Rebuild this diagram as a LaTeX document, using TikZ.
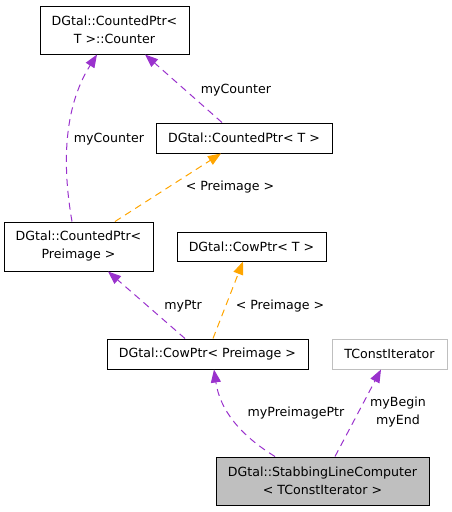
\documentclass[tikz,border=0pt]{standalone}
\usepackage{fontspec}
\setmainfont{DejaVu Sans}
\usetikzlibrary{arrows.meta}
\definecolor{edgep}{HTML}{9A32CD}
\definecolor{edgeo}{HTML}{FFA500}
\definecolor{boxgray}{HTML}{BFBFBF}
\definecolor{bordergray}{HTML}{BFBFBF}
\begin{document}
\begin{tikzpicture}[x=1pt,y=-1pt,
  cls/.style={draw=black,line width=1pt,fill=white,inner sep=0pt,font=\fontsize{12.6}{18}\selectfont,align=center},
  usep/.style={draw=edgep,dash pattern=on 7pt off 5pt,line width=1pt,-{Triangle[length=13pt,width=10pt,fill=edgep]}},
  tmpl/.style={draw=edgeo,dash pattern=on 7pt off 5pt,line width=1pt,-{Triangle[length=13pt,width=10pt,fill=edgeo]}},
  lab/.style={font=\fontsize{12.6}{18}\selectfont,inner sep=0pt,align=center}]
\useasboundingbox (0,0) rectangle (451,512);
\node[cls,minimum width=149pt,minimum height=48pt] (counter) at (114.5,30) {DGtal::CountedPtr<\\T >::Counter};
\node[cls,minimum width=176pt,minimum height=30pt] (cpt) at (244,138) {DGtal::CountedPtr< T >};
\node[cls,minimum width=149pt,minimum height=49pt] (cpp) at (78.5,246.5) {DGtal::CountedPtr<\\Preimage >};
\node[cls,minimum width=149pt,minimum height=29pt] (cowt) at (251.5,246.5) {DGtal::CowPtr< T >};
\node[cls,minimum width=201pt,minimum height=30pt] (cowp) at (207.5,354) {DGtal::CowPtr< Preimage >};
\node[cls,draw=bordergray,minimum width=115pt,minimum height=30pt] (tci) at (389.5,354) {TConstIterator};
\node[cls,fill=boxgray,minimum width=213pt,minimum height=48pt] (slc) at (322.5,481) {DGtal::StabbingLineComputer\\< TConstIterator >};
% edges
\draw[usep] (cpp.north -| 72,0) .. controls (63,170) and (62,110) .. (counter.south -| 97,0);
\node[lab] (l1) at (109,139) {myCounter};
\draw[usep] (cpt.north -| 222,0) -- (counter.south -| 145,0);
\node[lab] (l2) at (236,90) {myCounter};
\draw[tmpl] (cpp.north -| 115,0) -- (cpt.south -| 221,0);
\node[lab] (l3) at (230,187) {< Preimage >};
\draw[usep] (cowp.north -| 185,0) -- (cpp.south -| 108,0);
\node[lab] (l4) at (183,306) {myPtr};
\draw[tmpl] (cowp.north -| 213,0) -- (cowt.south -| 243,0);
\node[lab] (l5) at (280,306) {< Preimage >};
\draw[usep] (slc.north -| 275,0) .. controls (240,435) and (220,410) .. (cowp.south -| 214,0);
\node[lab] (l6) at (296,413) {myPreimagePtr};
\draw[usep] (slc.north -| 335,0) -- (tci.south -| 381,0);
\node[lab] (l7) at (398,412) {myBegin\\myEnd};
\end{tikzpicture}
\end{document}
